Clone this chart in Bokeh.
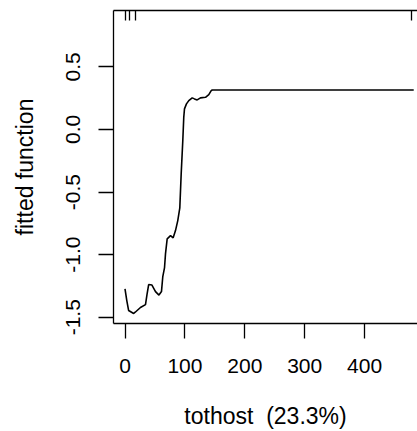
from bokeh.plotting import figure
from bokeh.models import Range1d, FixedTicker, LinearAxis
from bokeh.embed import file_html
from bokeh.resources import INLINE

# partial dependence of fitted function on tothost
tothost = [0, 3, 6, 14.5, 17, 25.8, 34.2, 36.7, 39.5, 45, 50.9, 56.7, 60.9, 63.1,
           66, 67.6, 70.4, 76, 80.4, 84.3, 88.1, 91.5, 93.8, 96.5, 98.1, 99.3,
           102.6, 106.5, 112.2, 116, 120.5, 126, 134.4, 139.9, 143.9, 145.6, 482]
fitted = [-1.273, -1.367, -1.446, -1.470, -1.460, -1.422, -1.399, -1.319, -1.239,
          -1.243, -1.295, -1.323, -1.295, -1.175, -1.103, -0.994, -0.874, -0.848,
          -0.866, -0.808, -0.728, -0.626, -0.355, -0.089, 0.097, 0.164, 0.204,
          0.230, 0.252, 0.244, 0.236, 0.252, 0.257, 0.278, 0.310, 0.315, 0.315]

# deciles of tothost (rug)
rug = [1, 8, 17, 479]

x_ticks = [0, 100, 200, 300, 400]
x_tick_labels = ["0", "100", "200", "300", "400"]
y_ticks = [-1.5, -1.0, -0.5, 0.0, 0.5]
y_tick_labels = ["-1.5", "-1.0", "-0.5", "0.0", "0.5"]

x_label = "tothost \u00a0(23.3%)"
y_label = "fitted function"

FONT = "Liberation Sans"

p = figure(width=417, height=431,
           x_range=Range1d(-19.2, 488.3), y_range=Range1d(-1.55, 0.95),
           output_backend="svg", toolbar_location=None,
           min_border_left=113, min_border_right=0,
           min_border_top=10, min_border_bottom=108,
           x_axis_label=x_label, y_axis_label=y_label)
p.outline_line_color = None
p.grid.visible = False
p.background_fill_color = "white"
p.border_fill_color = "white"

p.line(tothost, fitted, line_color="black", line_width=1.6)

for ax in (p.xaxis[0], p.yaxis[0]):
    ax.axis_line_color = "black"
    ax.axis_line_width = 1.3
    ax.major_tick_line_color = "black"
    ax.major_tick_line_width = 1.3
    ax.major_tick_out = 15
    ax.major_tick_in = 0
    ax.minor_tick_line_color = None
    ax.major_label_text_font = FONT
    ax.major_label_text_font_size = "21px"
    ax.major_label_text_color = "black"
    ax.axis_label_text_font = FONT
    ax.axis_label_text_font_size = "23px"
    ax.axis_label_text_font_style = "normal"
    ax.axis_label_text_color = "black"

p.xaxis[0].ticker = FixedTicker(ticks=x_ticks)
p.xaxis[0].major_label_overrides = dict(zip(x_ticks, x_tick_labels))
p.xaxis[0].major_label_standoff = 20
p.xaxis[0].axis_label_standoff = 27

p.yaxis[0].ticker = FixedTicker(ticks=y_ticks)
p.yaxis[0].major_label_overrides = dict(zip(y_ticks, y_tick_labels))
p.yaxis[0].major_label_orientation = "vertical"
p.yaxis[0].major_label_standoff = 18
p.yaxis[0].axis_label_standoff = 26

top = LinearAxis(ticker=FixedTicker(ticks=rug))
top.axis_line_color = "black"
top.axis_line_width = 1.3
top.major_tick_line_color = "black"
top.major_tick_line_width = 1.3
top.major_tick_in = 10
top.major_tick_out = 0
top.minor_tick_line_color = None
top.major_label_text_font_size = "0px"
top.major_label_text_color = None
top.major_label_standoff = 0
top.axis_label_standoff = 0
p.add_layout(top, "above")

open("out.html", "w").write(file_html(p, INLINE))
